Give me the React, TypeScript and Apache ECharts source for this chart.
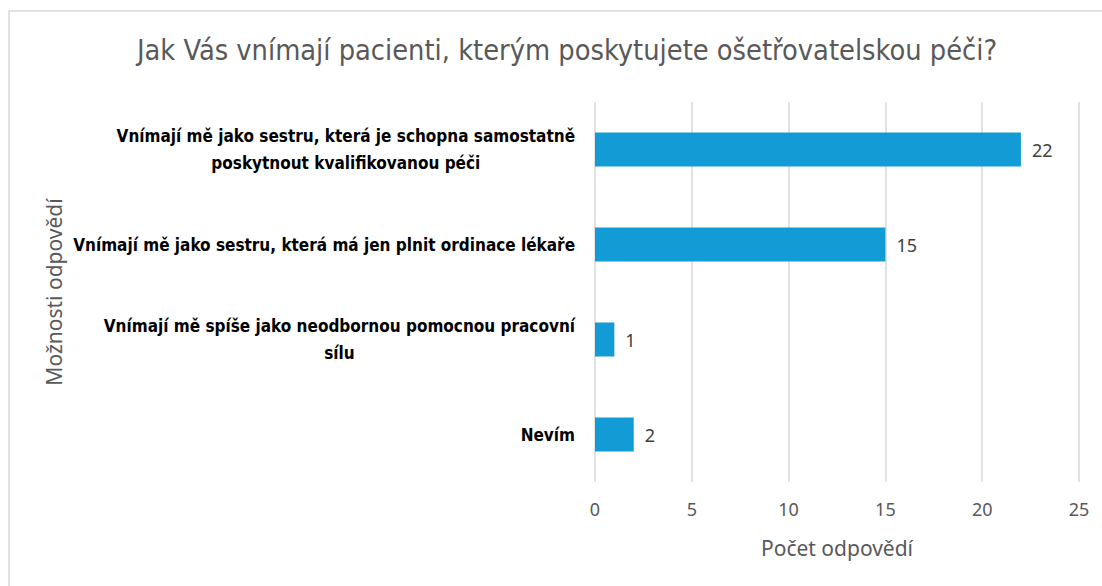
import React, { useEffect, useRef } from "react";
import * as echarts from "echarts";

const titleText = "Jak Vás vnímají pacienti, kterým poskytujete ošetřovatelskou péči?";
const categories = [
  "Vnímají mě jako sestru, která je schopna samostatně\nposkytnout kvalifikovanou péči",
  "Vnímají mě jako sestru, která má jen plnit ordinace lékaře",
  "Vnímají mě spíše jako neodbornou pomocnou pracovní\nsílu",
  "Nevím",
];
const values = [22, 15, 1, 2];
const xAxisName = "Počet odpovědí";
const yAxisName = "Možnosti odpovědí";

const NARROW = '"Liberation Sans Narrow", "DejaVu Sans Condensed", "Roboto Condensed", sans-serif';
const REG = '"Noto Sans", sans-serif';

export default function App() {
  const ref = useRef<HTMLDivElement>(null);
  useEffect(() => {
    if (!ref.current) return;
    const chart = echarts.init(ref.current, undefined, { renderer: "svg" });
    chart.setOption({
      animation: false,
      backgroundColor: "#ffffff",
      title: {
        text: titleText,
        left: 562,
        textAlign: "center",
        top: 30,
        textStyle: { fontFamily: NARROW, fontSize: 28.7, fontWeight: "normal", color: "#595959" },
      },
      graphic: [
        {
          type: "rect",
          shape: { x: 9, y: 11, width: 1200, height: 700 },
          style: { fill: "none", stroke: "#d9d9d9", lineWidth: 1.5 },
          silent: true,
        },
      ],
      grid: { left: 595, right: 23, top: 102, bottom: 104, containLabel: false },
      xAxis: {
        type: "value",
        min: 0,
        max: 25,
        interval: 5,
        axisLine: { show: false },
        axisTick: { show: false },
        splitLine: { show: true, lineStyle: { color: "#d9d9d9", width: 1.5 } },
        axisLabel: { margin: 18, fontSize: 18, color: "#595959", fontFamily: REG },
        name: xAxisName,
        nameLocation: "middle",
        nameGap: 55,
        nameMoveOverlap: false,
        nameTextStyle: { fontSize: 21, color: "#595959", fontFamily: REG },
      },
      yAxis: {
        type: "category",
        inverse: true,
        data: categories,
        axisLine: { show: false },
        axisTick: { show: false },
        axisLabel: {
          margin: 20,
          align: "right",
          formatter: (v: string) => v.split("\n").map((l) => `{c|${l}}`).join("\n"),
          rich: {
            c: {
              align: "center",
              fontFamily: NARROW,
              fontWeight: "bold",
              fontSize: 17,
              color: "#000000",
              lineHeight: 27,
            },
          },
        },
        name: yAxisName,
        nameLocation: "middle",
        nameGap: 531,
        nameRotate: 90,
        nameMoveOverlap: false,
        nameTextStyle: { fontSize: 21, color: "#595959", fontFamily: REG },
      },
      series: [
        {
          type: "bar",
          data: values,
          barWidth: 34,
          itemStyle: { color: "#139BD5" },
          label: {
            show: true,
            position: "right",
            distance: 11,
            fontSize: 18,
            color: "#404040",
            fontFamily: REG,
          },
        },
      ],
    });
    return () => chart.dispose();
  }, []);
  return (
    <div
      ref={ref}
      style={{ position: "fixed", left: 0, top: 0, width: 1102, height: 586 }}
    />
  );
}
